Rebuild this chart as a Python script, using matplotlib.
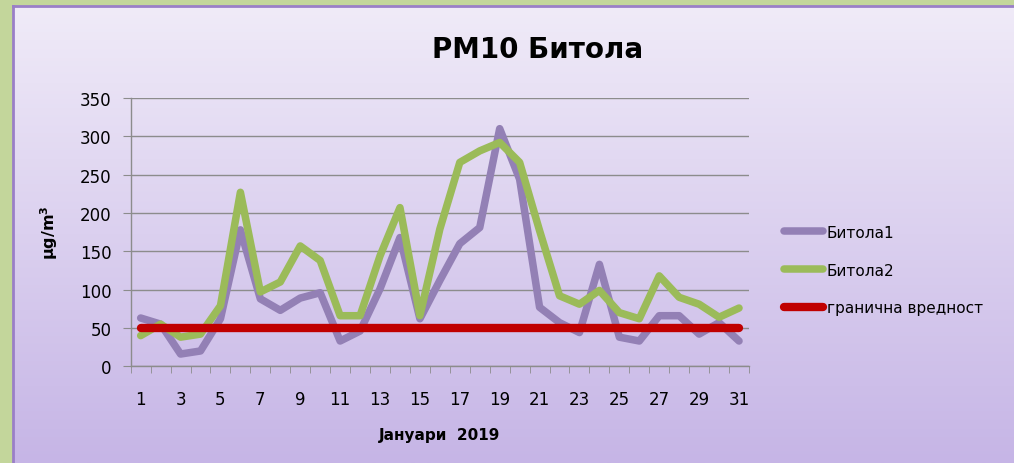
import matplotlib.pyplot as plt
import numpy as np

# Data
days = list(range(1, 32))
bitola1 = [63, 55, 16, 20, 62, 178, 88, 73, 89, 96, 33, 46, 101, 168, 62,
           112, 160, 181, 310, 244, 77, 57, 44, 133, 38, 33, 66, 66, 42, 57, 33]
bitola2 = [40, 55, 38, 42, 79, 227, 97, 110, 157, 138, 66, 66, 144, 207, 66,
           179, 266, 281, 292, 266, 177, 92, 81, 99, 70, 62, 118, 90, 81, 64, 76]
limit = [50] * 31
xtick_labels = [str(d) if d % 2 == 1 else "" for d in days]

W, H = 1014, 464
fig = plt.figure(figsize=(W / 100, H / 100), dpi=100)
fig.patch.set_facecolor("#c3d69b")

# Gradient background panel
bg = fig.add_axes([13 / W, 0, 1 - 13 / W, 1 - 7 / H])
top = np.array([0xf0, 0xeb, 0xf8]) / 255
bot = np.array([0xc6, 0xb5, 0xe6]) / 255
t = np.linspace(0, 1, 256)[:, None]
grad = (top * (1 - t) + bot * t)[:, None, :]
bg.imshow(grad, aspect="auto", extent=[0, 1, 0, 1])
bg.set_xticks([])
bg.set_yticks([])
for s in bg.spines.values():
    s.set_color("#9a7fc7")
    s.set_linewidth(2)
bg.spines["right"].set_visible(False)
bg.spines["bottom"].set_visible(False)
bg.set_zorder(0)

ax = fig.add_axes([130.7 / W, 96.7 / H, (749 - 130.7) / W, (367.3 - 99) / H])
ax.set_facecolor("none")
ax.set_zorder(1)

x = np.arange(len(days))
ax.plot(x, bitola1, color="#9380b5", linewidth=5.4, solid_joinstyle="round",
        solid_capstyle="round", label="Битола1")
ax.plot(x, bitola2, color="#9bbb59", linewidth=5.4, solid_joinstyle="round",
        solid_capstyle="round", label="Битола2")
ax.plot(x, limit, color="#c00000", linewidth=6, solid_capstyle="round",
        label="гранична вредност")

ax.set_xlim(-0.5, len(days) - 0.5)
ax.set_ylim(0, 350)
ax.set_yticks(range(0, 351, 50))
ax.set_xticks(x)
ax.set_xticklabels(xtick_labels)
ax.set_xticks(np.arange(-0.5, len(days), 1), minor=True)
ax.tick_params(axis="x", which="major", length=0, pad=17, labelsize=12)
ax.tick_params(axis="x", which="minor", length=5, color="#8c8c8c", direction="out")
ax.tick_params(axis="y", length=6, color="#8c8c8c", labelsize=12, pad=8)

ax.grid(axis="y", color="#8c8c8c", linewidth=1)
ax.set_axisbelow(True)
for side in ["top", "right"]:
    ax.spines[side].set_visible(False)
for side in ["left", "bottom"]:
    ax.spines[side].set_color("#8c8c8c")
    ax.spines[side].set_linewidth(1)

ax.set_xlabel("Јануари  2019", fontsize=11, fontweight="bold", labelpad=14)
ax.set_ylabel("μg/m$^\\mathbf{3}$", fontsize=11.5, fontweight="bold", labelpad=14)

fig.text(538 / W, 1 - 50 / H, "PM10 Битола", fontsize=20, fontweight="bold",
         ha="center", va="center")

fig.legend(loc="center left", bbox_to_anchor=(770 / W, 1 - 271 / H),
           frameon=False, fontsize=11, handlelength=2.6, handletextpad=0.2,
           labelspacing=1.5)

fig.savefig("out.png", dpi=100, facecolor=fig.get_facecolor())
